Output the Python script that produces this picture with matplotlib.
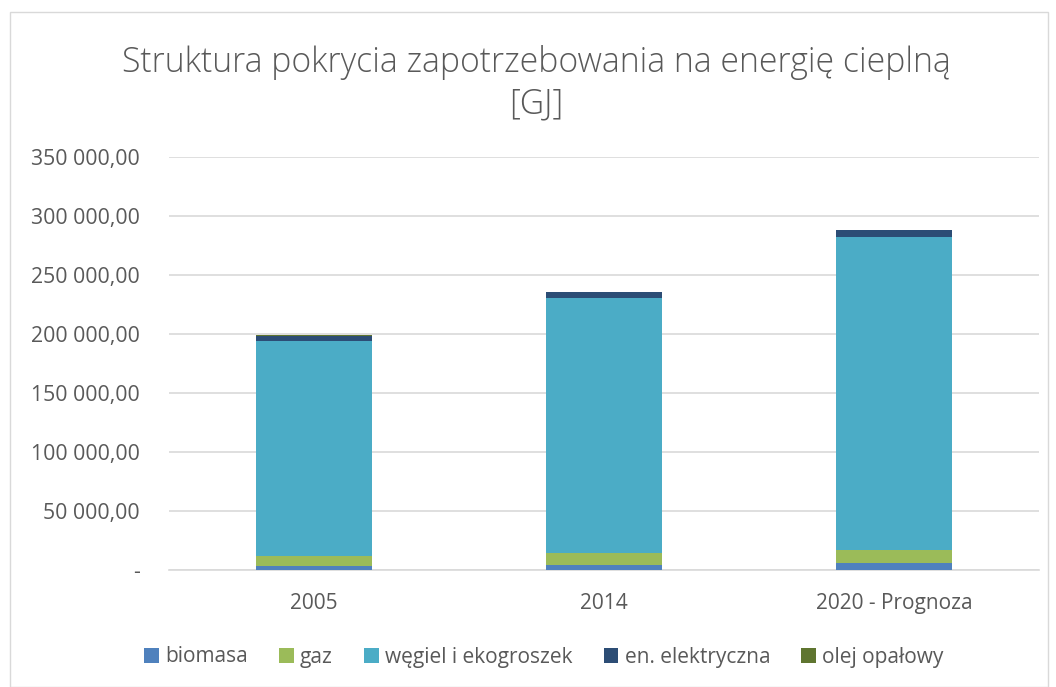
import matplotlib
matplotlib.use("Agg")
import matplotlib.pyplot as plt
from matplotlib.patches import Rectangle
from matplotlib.ticker import FuncFormatter
import numpy as np

plt.rcParams['font.family'] = ['Open Sans', 'DejaVu Sans']

categories = ["2005", "2014", "2020 - Prognoza"]
series_names = ["biomasa", "gaz", "węgiel i ekogroszek", "en. elektryczna", "olej opałowy"]
biomasa = [3800, 4650, 6100]
gaz = [8200, 9900, 11300]
wegiel = [182700, 216200, 265100]
elektr = [4200, 4800, 5900]
olej = [100, 100, 100]
colors = ["#4F81BD", "#9BBB59", "#4BACC6", "#2C4D75", "#5F7530"]
yticks = [0, 50000, 100000, 150000, 200000, 250000, 300000, 350000]

W, H = 1056, 687
fig = plt.figure(figsize=(W / 100, H / 100), dpi=100)
fig.patch.set_facecolor("white")
fig.add_artist(Rectangle((10 / W, 0.5 / H), 1038 / W, (H - 12.5) / H, transform=fig.transFigure,
                         fill=False, edgecolor="#D9D9D9", linewidth=1.0))

ax = fig.add_axes([169 / W, 1 - 570.3 / H, 870 / W, (570.3 - 157.3) / H])
x = np.arange(len(categories))
bottom = np.zeros(len(categories))
for name, vals, c in zip(series_names, [biomasa, gaz, wegiel, elektr, olej], colors):
    ax.bar(x, vals, width=0.4, bottom=bottom, color=c, label=name, zorder=3, linewidth=0)
    bottom += np.array(vals)

ax.set_xlim(-0.5, 2.5)
ax.set_ylim(0, 350000)
ax.set_yticks(yticks)

def fmt(v, pos):
    if v == 0:
        return "-"
    s = f"{int(v):,}".replace(",", " ")
    return s + ",00"

ax.yaxis.set_major_formatter(FuncFormatter(fmt))
ax.set_xticks(x)
ax.set_xticklabels(categories)
ax.grid(axis="y", color="#D9D9D9", linewidth=1.2, zorder=0)
for s in ["top", "right", "left"]:
    ax.spines[s].set_visible(False)
ax.spines["bottom"].set_color("#D9D9D9")
ax.spines["bottom"].set_linewidth(1.2)
ax.tick_params(axis="both", length=0, colors="#595959", labelsize=15)
ax.tick_params(axis="y", labelsize=15.3, pad=21)
ax.tick_params(axis="x", pad=16)

fig.text(536 / W, 1 - 62 / H, "Struktura pokrycia zapotrzebowania na energię cieplną",
         ha="center", va="center", fontsize=24.3, color="#595959", fontweight="light")
fig.text(536 / W, 1 - 104 / H, "[GJ]", ha="center", va="center", fontsize=24.3,
         color="#595959", fontweight="light")

leg = fig.legend(loc="center", bbox_to_anchor=(0.5 + 16 / W, 1 - 657 / H), ncol=5, frameon=False,
                 fontsize=15, handlelength=0.7, handleheight=0.7, handletextpad=0.3,
                 columnspacing=1.5)
for t in leg.get_texts():
    t.set_color("#595959")

fig.savefig("out.png", dpi=100)
